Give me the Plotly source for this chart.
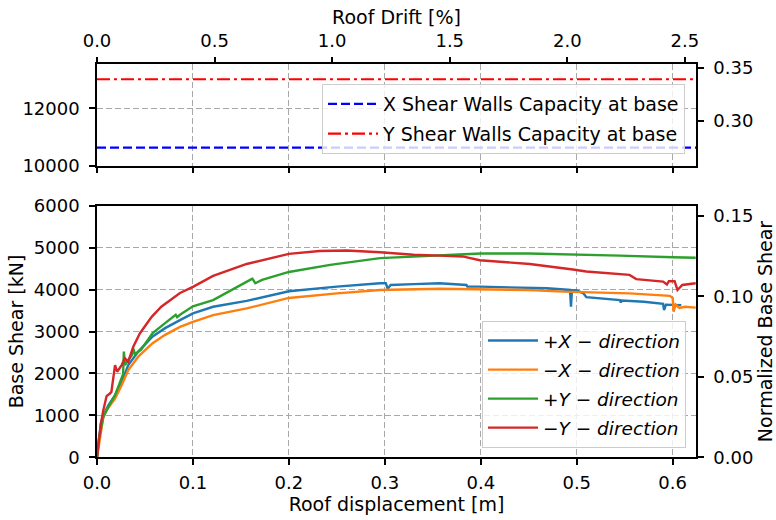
import plotly.graph_objects as go

# ---------------- data ----------------
# +X direction
disp_px = [0.0, 0.002, 0.004, 0.0066, 0.0118, 0.0188, 0.0240, 0.0257, 0.0326, 0.043, 0.058, 0.071,
           0.0865, 0.100, 0.121, 0.156, 0.200, 0.250, 0.295, 0.301, 0.303, 0.306, 0.330, 0.357,
           0.385, 0.386, 0.399, 0.430, 0.469, 0.493, 0.494, 0.495, 0.500, 0.507, 0.510, 0.545,
           0.546, 0.547, 0.570, 0.590, 0.591, 0.593, 0.600, 0.609]
shear_px = [0, 450, 800, 1000, 1240, 1480, 1700, 1800, 2200, 2520, 2880, 3080,
            3270, 3430, 3590, 3730, 3960, 4070, 4150, 4150, 4020, 4110, 4130, 4150,
            4110, 4070, 4070, 4060, 4030, 3990, 3590, 3990, 3980, 3910, 3820, 3750,
            3690, 3740, 3710, 3660, 3510, 3640, 3640, 3630]

# -X direction
disp_mx = [0.0, 0.002, 0.005, 0.0066, 0.010, 0.0188, 0.0257, 0.0326, 0.043, 0.058, 0.071, 0.0865,
           0.100, 0.121, 0.156, 0.200, 0.250, 0.295, 0.357, 0.400, 0.450, 0.486, 0.520, 0.555,
           0.597, 0.600, 0.601, 0.603, 0.607, 0.613, 0.624]
shear_mx = [0, 300, 650, 960, 1120, 1400, 1720, 2080, 2400, 2720, 2920, 3110,
            3230, 3390, 3550, 3800, 3910, 3990, 4020, 4010, 3990, 3950, 3930, 3910,
            3850, 3800, 3470, 3640, 3560, 3590, 3570]

# +Y direction
disp_py = [0.0, 0.002, 0.0066, 0.0118, 0.0188, 0.0220, 0.0257, 0.0272, 0.0280, 0.0292, 0.0326,
           0.0365, 0.0378, 0.0395, 0.0460, 0.0580, 0.0710, 0.0820, 0.0835, 0.0865, 0.100, 0.121,
           0.161, 0.162, 0.165, 0.172, 0.200, 0.243, 0.295, 0.357, 0.400, 0.450, 0.500, 0.545,
           0.600, 0.624]
shear_py = [0, 450, 960, 1200, 1480, 1680, 1920, 1980, 2520, 2200, 2320,
            2440, 2600, 2460, 2570, 2960, 3200, 3400, 3340, 3400, 3600, 3750,
            4250, 4260, 4150, 4230, 4420, 4590, 4750, 4820, 4860, 4860, 4840, 4810,
            4770, 4760]

# -Y direction
disp_my = [0.0, 0.0014, 0.0040, 0.0066, 0.0100, 0.0135, 0.0150, 0.0188, 0.0210, 0.0257, 0.0290,
           0.0326, 0.0378, 0.0448, 0.0570, 0.0670, 0.0865, 0.100, 0.121, 0.156, 0.200, 0.232,
           0.260, 0.295, 0.330, 0.357, 0.381, 0.399, 0.451, 0.496, 0.510, 0.555, 0.562, 0.590,
           0.594, 0.596, 0.602, 0.605, 0.610, 0.624]
shear_my = [0, 335, 800, 1120, 1460, 1520, 1560, 2200, 2040, 2200, 2360,
            2280, 2640, 2960, 3350, 3590, 3920, 4065, 4326, 4610, 4850, 4920,
            4930, 4890, 4830, 4810, 4790, 4700, 4610, 4480, 4430, 4350, 4250, 4190,
            4120, 4200, 4200, 3990, 4110, 4150]

cap_x = 10630   # X shear walls capacity at base [kN]
cap_y = 13010   # Y shear walls capacity at base [kN]

W = 38413.0     # weight used for normalization [kN]
H = 24.51       # building height [m]
X_MAX = 0.6243  # displacement axis limit [m]

series_names = ["+<i>X</i> − <i>direction</i>", "−<i>X</i> − <i>direction</i>",
                "+<i>Y</i> − <i>direction</i>", "−<i>Y</i> − <i>direction</i>"]
series_colors = ["#1f77b4", "#ff7f0e", "#2ca02c", "#d62728"]

# ---------------- figure ----------------
FONT = "DejaVu Sans"
fig = go.Figure()

for i, (xs, ys, nm, col) in enumerate(zip([disp_px, disp_mx, disp_py, disp_my],
                                          [shear_px, shear_mx, shear_py, shear_my],
                                          series_names, series_colors)):
    fig.add_trace(go.Scatter(x=xs, y=ys, mode="lines", name=nm,
                             line=dict(color=col, width=2.4), legendgroup=f"s{i}",
                             xaxis="x", yaxis="y", legend="legend"))

# invisible helper so the normalized axis is drawn
fig.add_trace(go.Scatter(x=disp_px, y=[v / W for v in shear_px], mode="lines",
                         opacity=0, showlegend=False, hoverinfo="skip",
                         xaxis="x", yaxis="y2"))

fig.add_trace(go.Scatter(x=[0, X_MAX], y=[cap_x, cap_x], mode="lines",
                         name="X Shear Walls Capacity at base", legendgroup="cx",
                         line=dict(color="#0000ff", width=2.2, dash="9px,4px"),
                         xaxis="x2", yaxis="y3", legend="legend2"))
fig.add_trace(go.Scatter(x=[0, X_MAX], y=[cap_y, cap_y], mode="lines",
                         name="Y Shear Walls Capacity at base", legendgroup="cy",
                         line=dict(color="#ff0000", width=2.2, dash="13px,4px,3px,4px"),
                         xaxis="x2", yaxis="y3", legend="legend2"))
# invisible helper for drift / normalized axes of top panel
fig.add_trace(go.Scatter(x=[0, X_MAX / H * 100], y=[cap_x / W, cap_y / W], mode="lines",
                         opacity=0, showlegend=False, hoverinfo="skip",
                         xaxis="x3", yaxis="y4"))

common = dict(showline=True, linecolor="black", linewidth=1.5, ticks="outside",
              ticklen=6, tickwidth=1.5, tickcolor="black", zeroline=False,
              automargin=False, tickfont=dict(family=FONT, size=18, color="black"))
xstand = dict(ticklabelstandoff=2)
ystand = dict(ticklabelstandoff=6)
grid = dict(showgrid=True, gridcolor="#a8a8a8", gridwidth=1.3, griddash="6px,3px")
nogrid = dict(showgrid=False)
xdom = [97 / 776, 696 / 776]
bot_dom = [1 - 457.3 / 520, 1 - 205.7 / 520]
top_dom = [1 - 165.7 / 520, 1 - 64.3 / 520]
tfont = dict(family=FONT, size=19, color="black")

fig.update_layout(
    width=776, height=520,
    margin=dict(l=0, r=0, t=0, b=0),
    template="none",
    paper_bgcolor="white", plot_bgcolor="white",
    font=dict(family=FONT, size=18, color="black"),
    xaxis=dict(domain=xdom, anchor="y", range=[0, X_MAX], tick0=0, dtick=0.1,
               tickformat=".1f", mirror=True,
               title=dict(text="Roof displacement [m]", font=tfont, standoff=5),
               **common, **xstand, **grid),
    yaxis=dict(domain=bot_dom, anchor="x", range=[0, 6000], tick0=0, dtick=1000,
               tickformat="d",
               title=dict(text="Base Shear [kN]", font=tfont, standoff=5),
               **common, **ystand, **grid),
    yaxis2=dict(overlaying="y", side="right", anchor="x", range=[0, 6000 / W],
                tickvals=[0, 0.05, 0.10, 0.15], tickformat=".2f",
                title=dict(text="Normalized Base Shear", font=tfont, standoff=8),
                **common, **ystand, **nogrid),
    xaxis2=dict(domain=xdom, anchor="y3", range=[0, X_MAX], tick0=0, dtick=0.1,
                showticklabels=False, **common, **grid),
    yaxis3=dict(domain=top_dom, anchor="x2", range=[10000, 13530],
                tickvals=[10000, 12000], tickformat="d", **common, **ystand, **grid),
    xaxis3=dict(overlaying="x2", side="top", anchor="y3", range=[0, X_MAX / H * 100],
                tick0=0, dtick=0.5, tickformat=".1f",
                title=dict(text="Roof Drift [%]", font=tfont, standoff=1),
                **common, **xstand, **nogrid),
    yaxis4=dict(overlaying="y3", side="right", anchor="x2", range=[0.258, 0.3532],
                tickvals=[0.30, 0.35], tickformat=".2f", **common, **ystand, **nogrid),
    legend=dict(x=686 / 776, xanchor="right", y=1 - 448 / 520, yanchor="bottom",
                bgcolor="rgba(255,255,255,0.8)", bordercolor="#cccccc", borderwidth=1,
                font=dict(family=FONT, size=18.5, color="black"), itemwidth=50,
                traceorder="grouped", tracegroupgap=2),
    legend2=dict(x=685 / 776, xanchor="right", y=1 - 84 / 520, yanchor="top",
                 bgcolor="rgba(255,255,255,0.8)", bordercolor="#cccccc", borderwidth=1,
                 font=dict(family=FONT, size=19, color="black"), itemwidth=50,
                 traceorder="grouped", tracegroupgap=2),
    showlegend=True,
)

fig.write_html("out.html", config={"displayModeBar": False},
               post_script="document.body.style.margin='0px';")
